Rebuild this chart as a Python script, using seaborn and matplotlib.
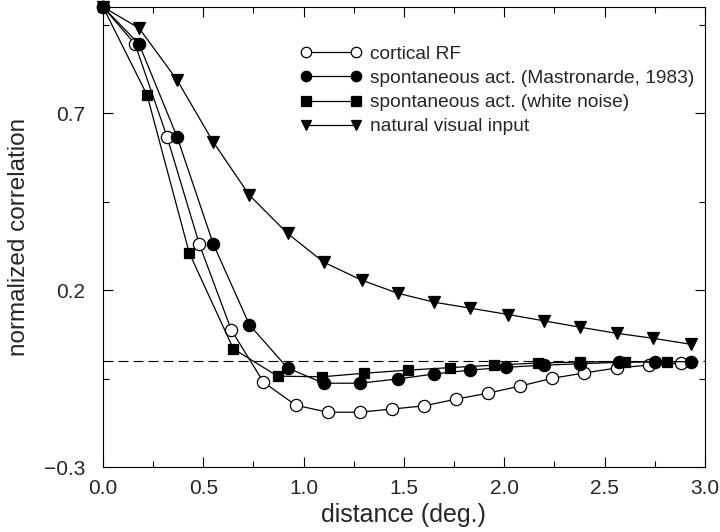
import matplotlib
matplotlib.use("Agg")
import matplotlib.pyplot as plt
import seaborn as sns

# data
x_rf = [0, 0.16, 0.32, 0.48, 0.64, 0.80, 0.96, 1.12, 1.28, 1.44, 1.60, 1.76, 1.92, 2.08, 2.24, 2.40, 2.56, 2.72, 2.88]
y_rf = [1.0, 0.895, 0.632, 0.33, 0.087, -0.06, -0.125, -0.145, -0.145, -0.136, -0.127, -0.108, -0.091, -0.071, -0.049, -0.034, -0.020, -0.012, -0.006]

x_mas = [0, 0.18, 0.37, 0.55, 0.73, 0.92, 1.10, 1.28, 1.47, 1.65, 1.83, 2.01, 2.20, 2.38, 2.57, 2.75, 2.93]
y_mas = [1.0, 0.895, 0.632, 0.33, 0.102, -0.02, -0.063, -0.063, -0.051, -0.037, -0.026, -0.018, -0.012, -0.008, -0.004, -0.003, -0.002]

x_wn = [0, 0.22, 0.43, 0.65, 0.87, 1.09, 1.30, 1.52, 1.73, 1.95, 2.17, 2.38, 2.60, 2.81]
y_wn = [1.0, 0.751, 0.305, 0.034, -0.043, -0.045, -0.035, -0.026, -0.019, -0.012, -0.006, -0.003, -0.002, -0.002]

x_nat = [0, 0.18, 0.37, 0.55, 0.73, 0.92, 1.10, 1.29, 1.47, 1.65, 1.83, 2.02, 2.20, 2.38, 2.56, 2.74, 2.93]
y_nat = [1.0, 0.94, 0.793, 0.618, 0.468, 0.36, 0.279, 0.228, 0.191, 0.166, 0.149, 0.131, 0.113, 0.095, 0.078, 0.064, 0.047]

labels = ["cortical RF", "spontaneous act. (Mastronarde, 1983)",
          "spontaneous act. (white noise)", "natural visual input"]

sns.set_theme(style="ticks")
plt.rcParams["font.family"] = ["Liberation Sans", "DejaVu Sans"]

fig, ax = plt.subplots(figsize=(7.2, 5.32), dpi=100)
fig.subplots_adjust(left=0.143, right=0.979, bottom=0.122, top=0.987)

ax.axhline(0, color="black", lw=0.8, dashes=(9, 4.5), zorder=1)

series = [
    (x_rf, y_rf, "o", "white", 8.8, 3),
    (x_mas, y_mas, "o", "black", 8.8, 4),
    (x_wn, y_wn, "s", "black", 7.8, 5),
    (x_nat, y_nat, "v", "black", 9, 2),
]
for lab, (xs, ys, mk, face, ms, z) in zip(labels, series):
    sns.lineplot(x=xs, y=ys, ax=ax, sort=False, color="black", lw=0.9,
                 marker=mk, markersize=ms, markerfacecolor=face,
                 markeredgecolor="black", markeredgewidth=0.9,
                 label=lab, clip_on=False, zorder=z)

ax.set_xlim(0, 3)
ax.set_ylim(-0.3, 1.0)
ax.set_xticks([0, 0.5, 1.0, 1.5, 2.0, 2.5, 3.0])
ax.set_xticks([0.25, 0.75, 1.25, 1.75, 2.25, 2.75], minor=True)
ax.set_yticks([-0.3, 0.2, 0.7])
ax.set_yticks([-0.05, 0.45, 0.95], minor=True)
ax.tick_params(which="both", direction="in", top=True, right=True,
               color="black", width=0.8, labelsize=15)
ax.tick_params(axis="x", which="major", pad=8.5)
ax.tick_params(axis="y", which="major", pad=13)
ax.tick_params(which="major", length=7)
ax.tick_params(which="minor", length=4)
for s in ax.spines.values():
    s.set_color("black")
    s.set_linewidth(0.8)

ax.set_xlabel("distance (deg.)", fontsize=18, labelpad=4)
ax.set_ylabel("normalized correlation", fontsize=17.5, labelpad=10)

ax.legend(loc="upper left", bbox_to_anchor=(0.327, 0.916), frameon=False,
          numpoints=2, handlelength=3.25, handletextpad=0.4, labelspacing=0.35,
          borderpad=0, borderaxespad=0, markerscale=0.85,
          prop={"family": "Liberation Sans", "size": 13.8})

fig.savefig("out.png", dpi=100)
